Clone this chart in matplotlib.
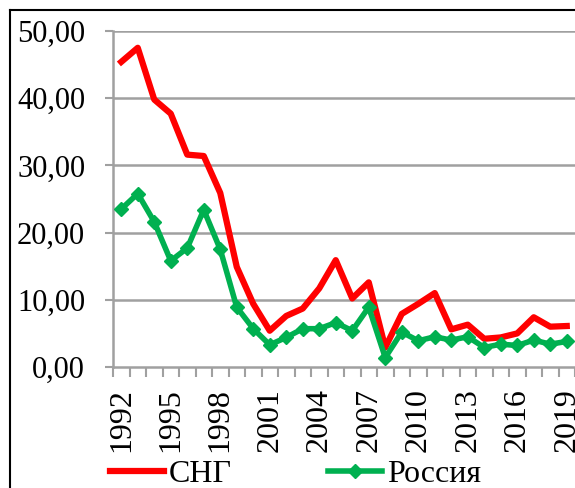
import matplotlib
matplotlib.use("Agg")
import matplotlib.pyplot as plt
from matplotlib.lines import Line2D

years = list(range(1992, 2020))
cis = [45.4, 47.5, 39.8, 37.7, 31.6, 31.4, 25.9, 14.9, 9.4, 5.4, 7.6, 8.7, 11.7, 15.9,
       10.2, 12.6, 2.9, 7.9, 9.4, 11.0, 5.6, 6.3, 4.2, 4.4, 5.0, 7.4, 6.0, 6.1]
russia = [23.5, 25.8, 21.6, 15.8, 17.7, 23.4, 17.5, 8.9, 5.7, 3.3, 4.4, 5.7, 5.7, 6.6,
          5.4, 8.9, 1.4, 5.2, 3.9, 4.5, 4.0, 4.5, 2.9, 3.4, 3.2, 4.0, 3.4, 3.8]
yticks = [0, 10, 20, 30, 40, 50]
ylabels = ["0,00", "10,00", "20,00", "30,00", "40,00", "50,00"]

plt.rcParams["font.family"] = ["Liberation Serif", "DejaVu Serif"]
W, H = 575, 488
fig = plt.figure(figsize=(W / 100, H / 100), dpi=100)
ax = fig.add_axes([113 / W, 1 - 367 / H, (575 - 113) / W, (367 - 31) / H])

x = list(range(len(years)))
grid_c = "#a0a0a0"
for v in yticks[1:]:
    ax.axhline(v, color=grid_c, lw=1.8, zorder=1)

ax.plot(x, cis, color="#ff0000", lw=4.5, solid_joinstyle="round", zorder=3, label="СНГ")
ax.plot(x, russia, color="#00b050", lw=4.0, marker="D", ms=7.5, mec="#00b050",
        solid_joinstyle="round", zorder=4, label="Россия")

ax.set_xlim(-0.5, len(years) - 0.5)
ax.set_ylim(0, 50)
ax.set_yticks(yticks)
ax.set_yticklabels(ylabels, fontsize=22)
ax.tick_params(axis="y", length=6, width=1.5, color=grid_c, pad=14)

ax.set_xticks([i - 0.5 for i in range(len(years) + 1)], minor=True)
ax.set_xticks([i for i in x if (years[i] - 1992) % 3 == 0])
ax.set_xticklabels([str(years[i]) for i in x if (years[i] - 1992) % 3 == 0],
                   rotation=90, fontsize=23)
ax.tick_params(axis="x", which="major", length=0, pad=15)
ax.tick_params(axis="x", which="minor", length=7, width=1.5, color=grid_c)

for s in ["top", "right"]:
    ax.spines[s].set_visible(False)
for s in ["left", "bottom"]:
    ax.spines[s].set_color(grid_c)
    ax.spines[s].set_linewidth(1.8)

leg = fig.legend(loc="center left", bbox_to_anchor=(110 / W, 1 - 474 / H), ncol=2,
                 frameon=False, fontsize=23, handlelength=1.7, columnspacing=3.0,
                 handletextpad=0.15, borderaxespad=0, borderpad=0)

# chart border
fig.add_artist(Line2D([10 / W, 1], [1 - 10 / H, 1 - 10 / H], color="black", lw=1.5))
fig.add_artist(Line2D([10 / W, 10 / W], [0, 1 - 10 / H], color="black", lw=1.5))

fig.savefig("out.png", dpi=100)
